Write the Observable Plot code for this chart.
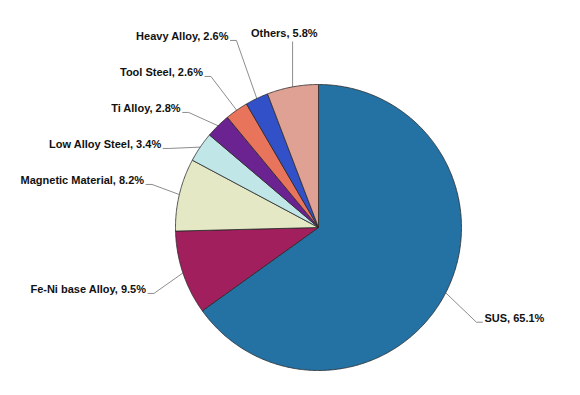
<!DOCTYPE html>
<html><head><meta charset="utf-8">
<script src="https://cdn.jsdelivr.net/npm/d3@7"></script>
<script src="https://cdn.jsdelivr.net/npm/@observablehq/plot@0.6"></script>
<style>html,body{margin:0;padding:0;background:#fff;} #chart svg{display:block;}</style>
</head><body><div id="chart"></div>
<script>
// ---- data ----
const categories = ["SUS", "Fe-Ni base Alloy", "Magnetic Material", "Low Alloy Steel", "Ti Alloy", "Tool Steel", "Heavy Alloy", "Others"];
const shares = [65.1, 9.5, 8.2, 3.4, 2.8, 2.6, 2.6, 5.8];
const colors = ["#2472a4", "#a21f5e", "#e5e8c5", "#c0e6e8", "#6b2391", "#e8745c", "#3251c8", "#dfa194"];

// ---- layout ----
const W = 580, H = 395, CX = 318, CY = 227, R = 143;
const total = d3.sum(shares);
let acc = 0;
const slices = categories.map((name, i) => {
  const a0 = acc / total * 2 * Math.PI;
  acc += shares[i];
  const a1 = acc / total * 2 * Math.PI;
  return {name, value: shares[i], a0, a1, mid: (a0 + a1) / 2, label: `${name}, ${shares[i].toFixed(1)}%`};
});

// slice outlines (unit circle, clockwise from 12 o'clock)
const pts = [];
for (const s of slices) {
  pts.push({name: s.name, x: 0, y: 0});
  const n = Math.max(2, Math.ceil((s.a1 - s.a0) / (Math.PI / 360)));
  for (let k = 0; k <= n; k++) {
    const a = s.a0 + (s.a1 - s.a0) * k / n;
    pts.push({name: s.name, x: Math.sin(a), y: Math.cos(a)});
  }
  pts.push({name: s.name, x: 0, y: 0});
}

// labels: outside placement with top-down collision avoidance
const KY = 1.45, TOPR = 1.32, GAP = 36 / R, SEG = 6 / R, PAD = 2 / R;
const labels = slices.map(s => {
  const px = Math.sin(s.mid), py = Math.cos(s.mid);
  const side = Math.abs(px) < 0.25 ? "top" : px > 0 ? "right" : "left";
  const kx = 1.15 + 0.2 * Math.abs(py);
  return side === "top"
    ? {...s, px, py, side, lx: TOPR * px, ly: TOPR * py}
    : {...s, px, py, side, lx: kx * px, ly: KY * py};
});
for (const side of ["left", "right"]) {
  const g = labels.filter(d => d.side === side).sort((a, b) => b.ly - a.ly);
  for (let i = 1; i < g.length; i++) {
    if (g[i - 1].ly - g[i].ly < GAP) g[i].ly = g[i - 1].ly - GAP;
  }
}
const leaders = [];
for (const d of labels) {
  leaders.push({name: d.name, x: d.px, y: d.py});
  if (d.side === "top") {
    leaders.push({name: d.name, x: d.px, y: d.ly});
  } else {
    const sgn = d.side === "left" ? -1 : 1;
    leaders.push({name: d.name, x: d.lx, y: d.ly});
    leaders.push({name: d.name, x: d.lx + sgn * SEG, y: d.ly});
  }
}

const font = {fontSize: 11, fontWeight: "bold", fill: "#111"};
const chart = Plot.plot({
  width: W, height: H, margin: 0,
  x: {domain: [-CX / R, (W - CX) / R], axis: null},
  y: {domain: [-(H - CY) / R, CY / R], axis: null},
  color: {domain: categories, range: colors},
  style: {fontFamily: "'Liberation Sans', Arial, sans-serif", background: "#fff"},
  marks: [
    Plot.line(leaders, {x: "x", y: "y", z: "name", stroke: "#707070", strokeWidth: 0.8}),
    Plot.line(pts, {x: "x", y: "y", z: "name", fill: "name", stroke: "#2a2a2a", strokeWidth: 0.8, strokeLinejoin: "round"}),
    Plot.text(labels.filter(d => d.side === "left"), {x: d => d.lx - SEG - PAD, y: "ly", text: "label", textAnchor: "end", dy: -4, ...font}),
    Plot.text(labels.filter(d => d.side === "right"), {x: d => d.lx + SEG + PAD, y: "ly", text: "label", textAnchor: "start", dy: -4, ...font}),
    Plot.text(labels.filter(d => d.side === "top"), {x: "lx", y: "ly", text: "label", textAnchor: "middle", dy: -8, ...font})
  ]
});
document.getElementById("chart").appendChild(chart);
</script>
</body></html>
